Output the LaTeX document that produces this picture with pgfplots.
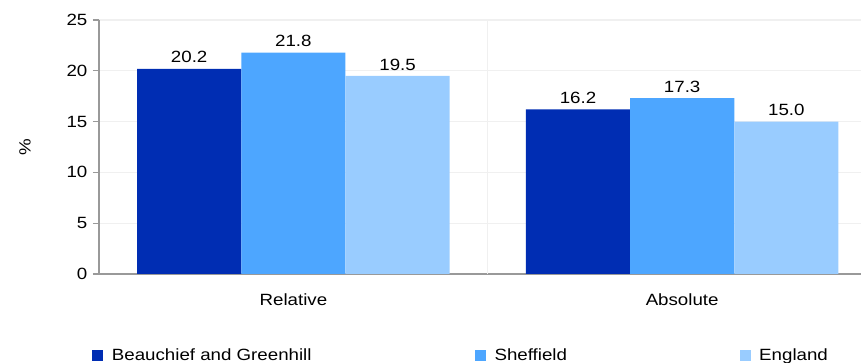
\documentclass[border=0pt]{standalone}
\usepackage{fontspec}
\setmainfont{Liberation Sans}[FakeStretch=1.15]
\usepackage{pgfplots}
\pgfplotsset{compat=1.18}
\definecolor{cA}{HTML}{002DB3}
\definecolor{cB}{HTML}{4DA6FF}
\definecolor{cC}{HTML}{99CCFF}
\definecolor{gridc}{HTML}{F0F0F0}
\definecolor{axisc}{HTML}{999999}
\begin{document}
\fontsize{12.2}{14.6}\selectfont
\begin{tikzpicture}
\useasboundingbox (-74.25pt,-66.75pt) rectangle (571.5pt,205.5pt);
\begin{axis}[
  at={(0pt,0pt)}, anchor=south west,
  scale only axis, width=571.5pt, height=190.5pt,
  ymin=0, ymax=25, ytick={0,5,10,15,20,25},
  xmin=-0.5, xmax=1.46,
  xtick={0,1}, xticklabels={Relative,Absolute},
  extra x ticks={0.5}, extra x tick labels={},
  extra x tick style={xmajorgrids=true, major tick length=0pt},
  ymajorgrids,
  grid style={draw=gridc, line width=1pt},
  axis x line*=bottom, axis y line*=left,
  axis line style={draw=axisc, line width=1.1pt},
  ytick style={draw=axisc, line width=1pt},
  xtick style={draw=none},
  tick align=outside, major tick length=4.5pt,
  /pgf/number format/assume math mode=true,
  ticklabel style={font=\fontsize{12.2}{14.6}\selectfont},
  xticklabel style={yshift=-6pt},
  ylabel={\%},
  ylabel style={at={(axis description cs:-0.097,0.5)}, anchor=center},
  ybar=0pt, bar width=0.268,
  nodes near coords,
  nodes near coords style={font=\fontsize{12.2}{14.6}\selectfont, /pgf/number format/.cd, fixed, fixed zerofill, precision=1, assume math mode=true},
  legend columns=3,
  legend style={at={(axis description cs:-0.0092,-0.321)}, anchor=west, draw=none, fill=none, inner sep=0pt, nodes={inner sep=0pt, anchor=west}, column sep=0pt, font=\fontsize{12.2}{14.6}\selectfont},
  legend image code/.code={\fill[#1] (0pt,-4.125pt) rectangle (8.25pt,4.125pt);},
]
\addplot[fill=cA, draw=none] coordinates {(0,20.2) (1,16.2)};
\addplot[fill=cB, draw=none] coordinates {(0,21.8) (1,17.3)};
\addplot[fill=cC, draw=none] coordinates {(0,19.5) (1,15.0)};
\legend{\hspace{6.5pt}\makebox[272.25pt][l]{Beauchief and Greenhill},\hspace{6.5pt}\makebox[183.75pt][l]{Sheffield},\hspace{6.5pt}England}
\end{axis}
\end{tikzpicture}
\end{document}
